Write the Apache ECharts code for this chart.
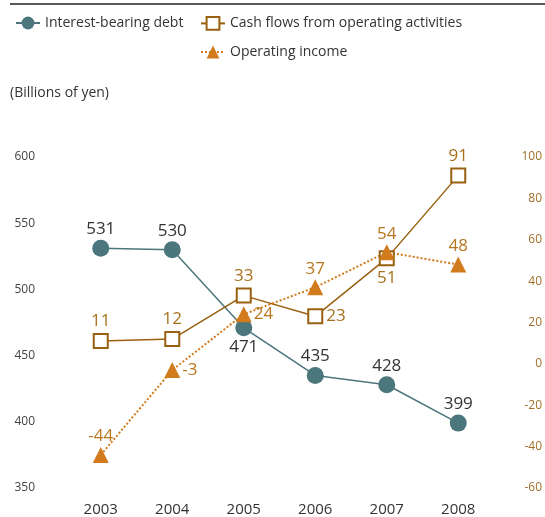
<!DOCTYPE html>
<html>
<head>
<meta charset="utf-8">
<script src="https://cdn.jsdelivr.net/npm/echarts@6/dist/echarts.min.js"></script>
<style>
html,body{margin:0;padding:0;background:#fff;}
#c{width:545px;height:517px;}
</style>
</head>
<body>
<div id="c"></div>
<script>
const years = ['2003','2004','2005','2006','2007','2008'];
const debt = [531, 530, 471, 435, 428, 399];
const cashFlow = [11, 12, 33, 23, 51, 91];
const opIncome = [-44, -3, 24, 37, 54, 48];
const debtLabelPos = ['top','top','bottom','top','top','top'];
const cashLabelPos = ['top','top','top','right','bottom','top'];
const opLabelPos = ['top','right','right','top','top','top'];

const FONT = '"Open Sans", "Noto Sans", sans-serif';
const TEAL = '#4a767c';
const BROWN = '#98600f';
const ORANGE = '#d27b1c';

function withPos(vals, pos) {
  return vals.map((v, i) => ({ value: v, label: { position: pos[i] } }));
}

const chart = echarts.init(document.getElementById('c'));
chart.setOption({
  animation: false,
  textStyle: { fontFamily: FONT },
  graphic: [
    { type: 'line', shape: { x1: 10, y1: 4, x2: 545, y2: 4 }, style: { stroke: '#222', lineWidth: 1.5 } },
    { type: 'text', left: 10, top: 86, style: { text: '(Billions of yen)', fontSize: 14, fill: '#333', fontFamily: FONT } }
  ],
  legend: [
    { data: ['Interest-bearing debt'], left: 10, top: 11, itemWidth: 24, itemHeight: 16, itemGap: 8,
      textStyle: { fontSize: 14, color: '#333', fontFamily: FONT } },
    { data: ['Cash flows from operating activities'], left: 195, top: 11, itemWidth: 24, itemHeight: 16,
      textStyle: { fontSize: 14, color: '#333', fontFamily: FONT } },
    { data: ['Operating income'], left: 195, top: 40, itemWidth: 24, itemHeight: 16,
      textStyle: { fontSize: 14, color: '#333', fontFamily: FONT } }
  ],
  grid: { left: 65, right: 49, top: 157, bottom: 27 },
  xAxis: {
    type: 'category', data: years, boundaryGap: true,
    axisLine: { show: false }, axisTick: { show: false },
    axisLabel: { fontSize: 15, color: '#333', margin: 14, fontFamily: FONT }
  },
  yAxis: [
    { type: 'value', min: 350, max: 600, interval: 50, position: 'left',
      splitLine: { show: false }, axisLine: { show: false }, axisTick: { show: false },
      axisLabel: { fontSize: 12, color: '#444', margin: 30, align: 'right', fontFamily: FONT } },
    { type: 'value', min: -60, max: 100, interval: 20, position: 'right',
      splitLine: { show: false }, axisLine: { show: false }, axisTick: { show: false },
      axisLabel: { fontSize: 12, color: '#a0702a', margin: 48, align: 'right', fontFamily: FONT } }
  ],
  series: [
    { name: 'Interest-bearing debt', type: 'line', yAxisIndex: 0,
      data: withPos(debt, debtLabelPos),
      symbol: 'circle', symbolSize: 17,
      lineStyle: { color: TEAL, width: 1.5 },
      itemStyle: { color: TEAL },
      label: { show: true, fontSize: 17, color: '#333', distance: 2, fontFamily: FONT } },
    { name: 'Cash flows from operating activities', type: 'line', yAxisIndex: 1,
      data: withPos(cashFlow, cashLabelPos),
      symbol: 'rect', symbolSize: 14,
      lineStyle: { color: BROWN, width: 1.5 },
      itemStyle: { color: '#fff', borderColor: BROWN, borderWidth: 2 },
      label: { show: true, fontSize: 17, color: '#a8711e', distance: 3, fontFamily: FONT } },
    { name: 'Operating income', type: 'line', yAxisIndex: 1,
      data: withPos(opIncome, opLabelPos),
      symbol: 'triangle', symbolSize: 16,
      lineStyle: { color: ORANGE, width: 2, type: 'dotted' },
      itemStyle: { color: ORANGE },
      label: { show: true, fontSize: 17, color: '#b8761e', distance: 2, fontFamily: FONT } }
  ]
});
</script>
</body>
</html>
